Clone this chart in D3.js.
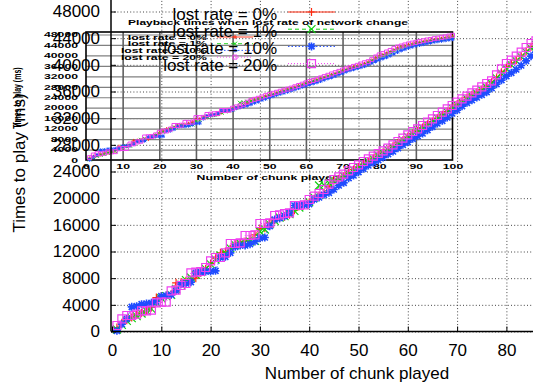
<!DOCTYPE html>
<html><head><meta charset="utf-8">
<script src="https://cdn.jsdelivr.net/npm/d3@7"></script>
<style>body{margin:0;background:#fff}svg{display:block}</style>
</head><body>
<svg id="c" width="533" height="383"></svg>
<script>
// ---------------- data ----------------
const chunks = [1,2,3,4,5,6,7,8,9,10,11,12,13,14,15,16,17,18,19,20,
 21,22,23,24,25,26,27,28,29,30,31,32,33,34,35,36,37,38,39,40,
 41,42,43,44,45,46,47,48,49,50,51,52,53,54,55,56,57,58,59,60,
 61,62,63,64,65,66,67,68,69,70,71,72,73,74,75,76,77,78,79,80,
 81,82,83,84,85,86,87,88,89,90,91,92,93,94,95,96,97,98,99,100];
const lost0 = [600,1300,1700,2100,2500,2800,3100,3600,5100,5300,
 5400,5600,7300,7400,7600,7800,8000,8800,9400,10200,
 11000,11800,12000,12400,13100,13300,13500,13900,14500,15400,
 15500,16300,16700,17000,17200,17500,18200,18800,19000,19400,
 19900,20400,20800,21700,22600,22900,23300,23800,24300,24700,
 25100,25500,26000,26500,26900,27300,27800,28300,28700,29200,
 29700,30100,30600,31100,31500,32000,32500,33000,33500,34100,
 34600,35100,35500,35900,36300,36800,37400,38100,38900,39600,
 40200,40700,41300,42000,42700,43200,43600,44000,44300,44600,
 44900,45200,45400,45700,45900,46100,46400,46600,46900,47200];
const lost1 = [300,1000,1600,2000,2300,2700,3100,3400,4300,5000,
 5300,5500,6400,7000,7700,8100,8500,8900,9400,10100,
 10800,11400,11800,12500,13000,13200,13400,13500,13600,15000,
 15300,16100,16600,17100,17300,17600,18100,18600,19000,19400,
 20100,21900,22000,22300,22500,22900,23300,23700,24200,24700,
 25100,25500,25900,26400,26800,27200,27600,28200,28700,29200,
 29600,30200,30500,31000,31500,32000,32400,32900,33500,34000,
 34400,34900,35300,35700,36200,36600,37200,38000,38700,39400,
 40000,40600,41200,41900,42500,43000,43400,43800,44100,44400,
 44700,45000,45300,45500,45800,46000,46200,46500,46700,47000];
const lost10 = [100,1100,1900,3700,3800,4100,4200,4300,4500,5300,
 5400,5500,6100,7100,7200,7400,8800,8900,9000,9000,
 9100,11100,11200,11800,12700,12900,12900,13100,13500,14000,
 14100,15800,16800,17000,17300,17800,18900,18900,19000,19100,
 19800,20100,20500,20800,21300,21900,22300,23000,23400,23900,
 24400,24900,25300,25700,26100,26600,27000,27500,28000,28400,
 28900,29300,29700,30200,30700,31200,31600,32100,32700,33200,
 33800,34300,34700,35100,35500,35900,36500,37100,37700,38300,
 38800,39300,39900,40600,41300,41900,42400,42900,43300,43700,
 44000,44300,44600,44900,45200,45400,45600,45800,46000,46200];
const lost20 = [900,1900,2400,2400,2600,3100,3100,3200,4300,4400,
 4400,6100,6200,6900,7200,8800,8900,9000,9600,10600,
 11100,11100,11800,13200,13200,13300,14400,14400,14500,16200,
 16200,16300,17400,17500,17700,17800,18900,18900,19000,19800,
 20300,20700,21300,22100,22800,23200,23600,24100,24600,25000,
 25500,25900,26300,26700,27100,27500,28000,28500,29000,29500,
 30000,30400,30900,31400,31900,32400,32900,33400,33900,34400,
 34900,35300,35800,36200,36700,37200,37600,38500,39400,40200,
 40700,41300,41900,42600,43200,43600,44000,44400,44700,45000,
 45300,45600,45900,46100,46400,46600,46900,47100,47400,47700];
const seriesNames = ["lost rate = 0%","lost rate = 1%","lost rate = 10%","lost rate = 20%"];
const mainYTicks = [0,4000,8000,12000,16000,20000,24000,28000,32000,36000,40000,44000,48000];
const mainXTicks = [0,10,20,30,40,50,60,70,80];
const insetXTicks = [0,10,20,30,40,50,60,70,80,90,100];
const insetYTicks = [0,4000,8000,12000,16000,20000,24000,28000,32000,36000,40000,44000,48000];
const insetTitle = "Playback times when lost rate of network change";
const xTitle = "Number of chunk played";
const yTitle = "Times to play (ms)";

// ---------------- styles ----------------
const FONT = "'Liberation Sans', Arial, Helvetica, sans-serif";
const colors = ["#ff2a10","#10d010","#1f4cff","#f040f0"];
const dashes = [null,"4,3","1.5,2","1,2"];
const shapes = ["plus","cross","star","square"];
const series = [lost0,lost1,lost10,lost20].map((v,i)=>({
  name: seriesNames[i], color: colors[i], dash: dashes[i], shape: shapes[i],
  values: chunks.map((c,j)=>({x:c, y:v[j]}))
}));

function markerPath(shape, r){
  const d = d3.path();
  if(shape==="plus"||shape==="star"){ d.moveTo(-r,0); d.lineTo(r,0); d.moveTo(0,-r); d.lineTo(0,r); }
  if(shape==="cross"||shape==="star"){ const q = shape==="star"? r*0.75 : r; d.moveTo(-q,-q); d.lineTo(q,q); d.moveTo(-q,q); d.lineTo(q,-q); }
  if(shape==="square"){ d.rect(-r,-r,2*r,2*r); }
  return d.toString();
}

const svg = d3.select("#c");
const fmt = d3.format("d");

// ---------------- main scales ----------------
const x = d3.scaleLinear().domain([0,100]).range([112, 605]);
const y = d3.scaleLinear().domain([0,48000]).range([331.5, 11.5]);
// ---------------- inset scales ----------------
const ix = d3.scaleLinear().domain([0,100]).range([86, 452.5]);
const iy = d3.scaleLinear().domain([0,48000]).range([160, 34.5]);

// main grid (dotted)
const gridG = svg.append("g");
gridG.append("g").attr("transform","translate(111,0)")
  .call(d3.axisLeft(y).tickValues(mainYTicks).tickSize(-440).tickFormat(""))
  .call(g=>g.select(".domain").remove())
  .call(g=>g.selectAll("line").attr("stroke","#444").attr("stroke-dasharray","1,2.2"));
gridG.append("g").attr("transform","translate(0,331.5)")
  .call(d3.axisBottom(x).tickValues(mainXTicks.filter(d=>d>0)).tickSize(-335).tickFormat(""))
  .call(g=>g.select(".domain").remove())
  .call(g=>g.selectAll("line").attr("stroke","#444").attr("stroke-dasharray","1,2.2"));

// ---------------- inset ----------------
const inset = svg.append("g");
inset.append("g").attr("transform","translate(86,0)")
  .call(d3.axisLeft(iy).tickValues(insetYTicks.filter(d=>d>0)).tickSize(-366.5).tickFormat(""))
  .call(g=>g.select(".domain").remove())
  .call(g=>g.selectAll("line").attr("stroke","#808080").attr("stroke-width",1.2));
inset.append("g").attr("transform","translate(0,160)")
  .call(d3.axisBottom(ix).tickValues(insetXTicks.filter(d=>d>0&&d<100)).tickSize(-128).tickFormat(""))
  .call(g=>g.select(".domain").remove())
  .call(g=>g.selectAll("line").attr("stroke","#606060").attr("stroke-width",1.6));
inset.append("rect").attr("x",86).attr("y",32).attr("width",366.5).attr("height",128)
  .attr("fill","none").attr("stroke","#000").attr("stroke-width",1.6);

const SX = 1.75;
// inset axis labels
const iyAx = inset.append("g").attr("transform","translate(86,0)")
  .call(d3.axisLeft(iy).tickValues(insetYTicks).tickSize(0).tickPadding(8/SX).tickFormat(fmt))
  .call(g=>g.select(".domain").remove());
iyAx.selectAll("text").attr("transform",`scale(${SX},1)`).attr("font-family",FONT)
  .attr("font-weight","bold").attr("font-size",7).attr("fill","#000");
const ixAx = inset.append("g").attr("transform","translate(0,160)")
  .call(d3.axisBottom(ix).tickValues(insetXTicks).tickSize(0).tickPadding(4.5).tickFormat(fmt))
  .call(g=>g.select(".domain").remove());
ixAx.selectAll("text").attr("transform",`scale(${SX},1)`).attr("font-family",FONT)
  .attr("font-weight","bold").attr("font-size",7).attr("fill","#000");

function stretchedText(parent, tx, ty, sx, txt, size, anchor){
  return parent.append("g").attr("transform",`translate(${tx},${ty}) scale(${sx},1)`)
    .append("text").attr("text-anchor",anchor).attr("font-family",FONT).attr("font-weight","bold")
    .attr("font-size",size).attr("fill","#000").text(txt);
}
stretchedText(inset, 268, 25, 1.5, insetTitle, 8, "middle");
stretchedText(inset, 268, 180, SX, xTitle, 7, "middle");
inset.append("g").attr("transform","translate(21,98) scale(1.6,1) rotate(-90)")
  .append("text").attr("text-anchor","middle").attr("font-family",FONT).attr("font-weight","bold")
  .attr("font-size",7).text(yTitle);

// inset data
const iline = d3.line().x(d=>ix(d.x)).y(d=>iy(d.y));
series.forEach(s=>{
  const g = inset.append("g");
  g.append("path").datum(s.values).attr("d",iline).attr("fill","none").attr("stroke",s.color)
    .attr("stroke-width",0.8).attr("stroke-dasharray",s.dash);
  g.selectAll("path.m").data(s.values).join("path").attr("class","m")
    .attr("transform",d=>`translate(${ix(d.x)},${iy(d.y)})`)
    .attr("d",markerPath(s.shape,2)).attr("fill","none").attr("stroke",s.color).attr("stroke-width",1);
});
// inset legend
series.forEach((s,i)=>{
  const ly = 37 + i*6.7;
  stretchedText(inset, 207, ly+2.5, SX, s.name, 7, "end");
  inset.append("line").attr("x1",217).attr("x2",253).attr("y1",ly).attr("y2",ly)
    .attr("stroke",s.color).attr("stroke-width",0.9).attr("stroke-dasharray",s.dash);
  inset.append("path").attr("transform",`translate(235,${ly})`).attr("d",markerPath(s.shape,2))
    .attr("fill","none").attr("stroke",s.color).attr("stroke-width",1);
});

// ---------------- main data ----------------
const line = d3.line().x(d=>x(d.x)).y(d=>y(d.y));
series.forEach(s=>{
  const g = svg.append("g");
  g.append("path").datum(s.values).attr("d",line).attr("fill","none").attr("stroke",s.color)
    .attr("stroke-width",1).attr("stroke-dasharray",s.dash);
  g.selectAll("path.m").data(s.values).join("path").attr("class","m")
    .attr("transform",d=>`translate(${x(d.x)},${y(d.y)})`)
    .attr("d",markerPath(s.shape, 4)).attr("fill","none")
    .attr("stroke",s.color).attr("stroke-width", s.shape==="star"?1.6:1.2);
});

// ---------------- main axes ----------------
const yAx = svg.append("g").attr("transform","translate(111,0)")
  .call(d3.axisLeft(y).tickValues(mainYTicks).tickSize(-5).tickPadding(11).tickFormat(fmt));
yAx.select(".domain").attr("d","M0,0V331.5").attr("stroke","#000").attr("stroke-width",1.5);
yAx.selectAll("text").attr("font-family",FONT).attr("font-size",17).attr("fill","#000");
const xAx = svg.append("g").attr("transform","translate(0,331.5)")
  .call(d3.axisBottom(x).tickValues(mainXTicks).tickSize(-5).tickPadding(12).tickFormat(fmt));
xAx.select(".domain").attr("d","M111,0H620").attr("stroke","#000").attr("stroke-width",1.5);
xAx.selectAll("text").attr("font-family",FONT).attr("font-size",17).attr("fill","#000");

svg.append("text").attr("x",357).attr("y",379).attr("text-anchor","middle")
  .attr("font-family",FONT).attr("font-size",17).text(xTitle);
svg.append("text").attr("transform","translate(25,163) rotate(-90)").attr("text-anchor","middle")
  .attr("font-family",FONT).attr("font-size",17).text(yTitle);

// main legend
series.forEach((s,i)=>{
  const ly = 12 + i*17.2;
  svg.append("text").attr("x",277).attr("y",ly+7.5).attr("text-anchor","end")
    .attr("font-family",FONT).attr("font-size",17).text(s.name);
  svg.append("line").attr("x1",288).attr("x2",335).attr("y1",ly).attr("y2",ly)
    .attr("stroke",s.color).attr("stroke-width",1).attr("stroke-dasharray",s.dash);
  svg.append("path").attr("transform",`translate(311.5,${ly})`).attr("d",markerPath(s.shape,4))
    .attr("fill","none").attr("stroke",s.color).attr("stroke-width", s.shape==="star"?1.6:1.2);
});
</script>
</body></html>
